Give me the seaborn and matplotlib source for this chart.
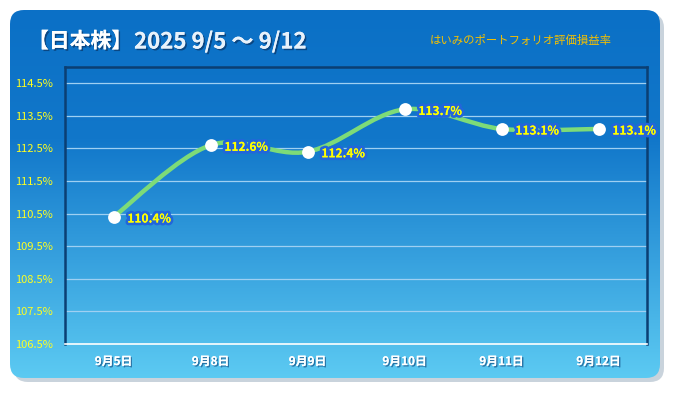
import numpy as np
import pandas as pd
import matplotlib.pyplot as plt
import seaborn as sns
from matplotlib.patches import FancyBboxPatch, PathPatch
from matplotlib.path import Path
from matplotlib.colors import LinearSegmentedColormap
import matplotlib.patheffects as pe

# データ
dates = ['9月5日', '9月8日', '9月9日', '9月10日', '9月11日', '9月12日']
rates = [110.4, 112.6, 112.4, 113.7, 113.1, 113.1]
yticks = [106.5, 107.5, 108.5, 109.5, 110.5, 111.5, 112.5, 113.5, 114.5]

df = pd.DataFrame({'date': dates, 'rate': rates})
df['pos'] = range(len(df))

sns.set_style('white')
plt.rcParams['font.family'] = ['Noto Sans CJK JP', 'DejaVu Sans']

fig = plt.figure(figsize=(6.75, 3.93), dpi=100)

# 背景（角丸 + グラデーション）
bg = fig.add_axes([0, 0, 1, 1])
bg.set_xlim(0, 675)
bg.set_ylim(393, 0)
bg.axis('off')

shadow = FancyBboxPatch((14, 14), 650, 368, boxstyle='round,pad=0,rounding_size=14',
                        fc='#c9d3dc', ec='none', zorder=0)
bg.add_patch(shadow)
box = FancyBboxPatch((10, 10), 650, 368, boxstyle='round,pad=0,rounding_size=14',
                     fc='none', ec='none', zorder=1)
bg.add_patch(box)
cmap = LinearSegmentedColormap.from_list('bg', [(0, '#0b70c6'), (0.35, '#1177ca'), (1, '#5ccaf2')])
grad = np.linspace(0, 1, 256).reshape(-1, 1)
im = bg.imshow(grad, cmap=cmap, extent=[10, 660, 378, 10], aspect='auto', zorder=1)
im.set_clip_path(box)

title_fx = [pe.withSimplePatchShadow(offset=(1.2, -1.2), shadow_rgbFace='#0a3566', alpha=0.7), pe.Normal()]
bg.text(28, 41, '【日本株】', color='white', fontsize=15, fontweight='bold', va='center',
        path_effects=title_fx, zorder=3)
bg.text(134, 42, '2025 9/5 ～ 9/12', color='#e8f2fb', fontsize=16, fontweight='bold', va='center',
        path_effects=title_fx, zorder=3)
bg.text(430, 40, 'はいみのポートフォリオ評価損益率', color='#f5c000', fontsize=8.2,
        va='center', zorder=3)

# グラフ本体
ax = fig.add_axes([65 / 675, 1 - 344 / 393, 582 / 675, 277 / 393])
ax.patch.set_alpha(0)

for yv in yticks[1:]:
    ax.axhline(yv, color='#9fd0f2', lw=0.9, zorder=1)

# なめらかな線（Catmull-Rom → ベジェ）
xs = df['pos'].to_numpy(dtype=float)
ys = df['rate'].to_numpy()
verts = [(xs[0], ys[0])]
codes = [Path.MOVETO]
n = len(xs)
for i in range(n - 1):
    p0 = np.array([xs[max(i - 1, 0)], ys[max(i - 1, 0)]])
    p1 = np.array([xs[i], ys[i]])
    p2 = np.array([xs[i + 1], ys[i + 1]])
    p3 = np.array([xs[min(i + 2, n - 1)], ys[min(i + 2, n - 1)]])
    c1 = p1 + (p2 - p0) / 6
    c2 = p2 - (p3 - p1) / 6
    verts += [tuple(c1), tuple(c2), tuple(p2)]
    codes += [Path.CURVE4] * 3
ax.add_patch(PathPatch(Path(verts, codes), fc='none', ec='#7ddb78', lw=3.2, zorder=3,
                       capstyle='round'))

sns.scatterplot(data=df, x='pos', y='rate', ax=ax, color='white', s=85, edgecolor='white',
                linewidth=0, zorder=4)

label_fx = [pe.withStroke(linewidth=4, foreground='#2266da'), pe.Normal()]
for p, r in zip(df['pos'], df['rate']):
    ax.annotate(f'{r:.1f}%', (p, r), xytext=(10, -1.5), textcoords='offset points',
                color='#ffff00', fontsize=8.6, fontweight='bold', va='center', ha='left',
                path_effects=label_fx, zorder=5)

ax.set_xlim(-0.5, 5.5)
ax.set_ylim(106.5, 115.0)
ax.set_yticks(yticks)
ax.set_yticklabels([f'{v:.1f}%' for v in yticks], color='#ffff20', fontsize=8)
ax.set_xticks(np.arange(-0.5, 6, 1))
ax.set_xticklabels([])
ax.set_xticks(df['pos'], minor=True)
ax.set_xticklabels(dates, minor=True, color='white', fontsize=8.5, fontweight='bold')
for t in ax.get_xticklabels(minor=True):
    t.set_path_effects([pe.withSimplePatchShadow(offset=(1, -1), shadow_rgbFace='#1d5f93', alpha=0.8), pe.Normal()])
ax.tick_params(axis='x', which='major', length=4, color='white', width=1, direction='out')
ax.tick_params(axis='x', which='minor', length=0, pad=8)
ax.tick_params(axis='y', length=0, pad=9)
ax.set_xlabel('')
ax.set_ylabel('')

for s in ['left', 'right', 'top']:
    ax.spines[s].set_color('#0b3f73')
    ax.spines[s].set_linewidth(1.8)
ax.spines['bottom'].set_color('white')
ax.spines['bottom'].set_linewidth(1.2)

plt.savefig('out.png', dpi=100, facecolor='white')
